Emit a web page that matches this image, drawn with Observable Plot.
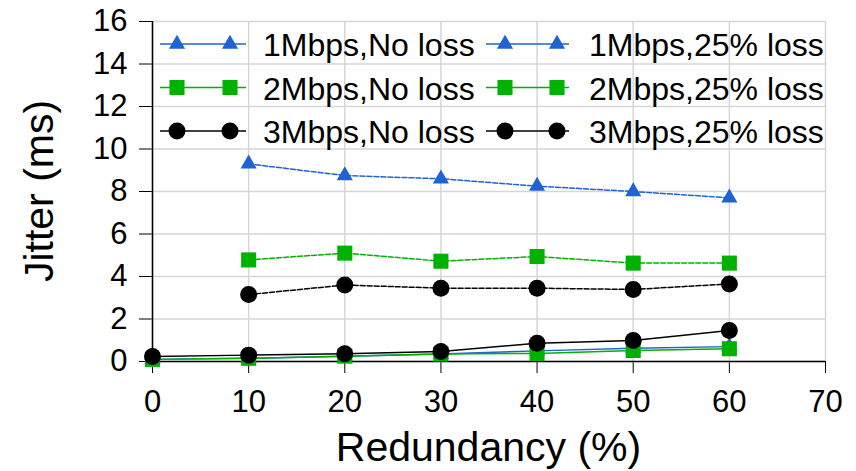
<!DOCTYPE html>
<html>
<head>
<meta charset="utf-8">
<script src="https://cdn.jsdelivr.net/npm/d3@7"></script>
<script src="https://cdn.jsdelivr.net/npm/@observablehq/plot@0.6"></script>
<style>
  html, body { margin: 0; padding: 0; background: #fff; }
  #chart { width: 856px; height: 471px; }
</style>
</head>
<body>
<div id="chart"></div>
<script>
// ---- data ----
const redundancy = [0, 10, 20, 30, 40, 50, 60];
const redundancyLoss = [10, 20, 30, 40, 50, 60];
const noLoss1M = [0.1, 0.15, 0.25, 0.35, 0.5, 0.62, 0.7];
const noLoss2M = [0.1, 0.15, 0.25, 0.35, 0.38, 0.52, 0.6];
const noLoss3M = [0.24, 0.3, 0.36, 0.47, 0.86, 0.99, 1.46];
const loss1M = [9.3, 8.75, 8.6, 8.25, 8.0, 7.7];
const loss2M = [4.78, 5.1, 4.72, 4.94, 4.63, 4.63];
const loss3M = [3.15, 3.6, 3.45, 3.45, 3.39, 3.65];
const xTicks = [0, 10, 20, 30, 40, 50, 60, 70];
const yTicks = [0, 2, 4, 6, 8, 10, 12, 14, 16];
const seriesNames = ["1Mbps,No loss", "1Mbps,25% loss", "2Mbps,No loss", "2Mbps,25% loss", "3Mbps,No loss", "3Mbps,25% loss"];
const xLabel = "Redundancy (%)";
const yLabel = "Jitter (ms)";

const BLUE = "#1f63d3", GREEN = "#00b200", BLACK = "#000000";

const series = [
  {name: seriesNames[0], xs: redundancy, ys: noLoss1M, color: BLUE, symbol: "triangle", r: 6, dash: null},
  {name: seriesNames[2], xs: redundancy, ys: noLoss2M, color: GREEN, symbol: "square", r: 8.5, dash: null},
  {name: seriesNames[4], xs: redundancy, ys: noLoss3M, color: BLACK, symbol: "circle", r: 8.5, dash: null},
  {name: seriesNames[1], xs: redundancyLoss, ys: loss1M, color: BLUE, symbol: "triangle", r: 6, dash: "5,2"},
  {name: seriesNames[3], xs: redundancyLoss, ys: loss2M, color: GREEN, symbol: "square", r: 8.5, dash: "5,2"},
  {name: seriesNames[5], xs: redundancyLoss, ys: loss3M, color: BLACK, symbol: "circle", r: 8.5, dash: "5,2"}
];

const marks = [
  Plot.ruleX(xTicks, {stroke: "#d6d6d6", strokeWidth: 1.5}),
  Plot.ruleY(yTicks, {stroke: "#d6d6d6", strokeWidth: 1.5}),
  Plot.ruleX([0], {stroke: "#000", strokeWidth: 1.5}),
  Plot.ruleY([0], {stroke: "#000", strokeWidth: 1.5})
];
for (const s of series) {
  const rows = s.xs.map((x, i) => ({x, y: s.ys[i]}));
  marks.push(Plot.line(rows, {x: "x", y: "y", stroke: s.color, strokeWidth: 1.5, strokeDasharray: s.dash}));
}
for (const s of series) {
  const rows = s.xs.map((x, i) => ({x, y: s.ys[i]}));
  marks.push(Plot.dot(rows, {x: "x", y: "y", fill: s.color, stroke: "none", symbol: s.symbol, r: s.r}));
}

const plot = Plot.plot({
  width: 856,
  height: 471,
  marginLeft: 152,
  marginRight: 31,
  marginTop: 21,
  marginBottom: 110,
  style: {fontFamily: "Liberation Sans, Arial, sans-serif", fontSize: "31px", color: "#000", background: "#fff"},
  x: {domain: [0, 70], ticks: xTicks, tickSize: 12, tickPadding: 16, tickFormat: d => String(d), label: null},
  y: {domain: [0, 16], ticks: yTicks, tickSize: 13, tickPadding: 12, tickFormat: d => String(d), label: null},
  marks
});
document.getElementById("chart").appendChild(plot);

// axis titles and legend
const svg = d3.select(plot);
svg.append("text")
  .attr("x", 488.5).attr("y", 461)
  .attr("text-anchor", "middle")
  .style("font-size", "41px").style("font-family", "Liberation Sans, Arial, sans-serif")
  .attr("fill", "#000")
  .text(xLabel);
svg.append("text")
  .attr("transform", "translate(53,191) rotate(-90)")
  .attr("text-anchor", "middle")
  .style("font-size", "41px").style("font-family", "Liberation Sans, Arial, sans-serif")
  .attr("fill", "#000")
  .text(yLabel);

const symMap = {triangle: d3.symbolTriangle, square: d3.symbolSquare, circle: d3.symbolCircle};
const legendRows = [44, 87.5, 131];
const legendCols = [
  {x0: 160, x1: 246, m0: 177, m1: 230, tx: 263},
  {x0: 486, x1: 569, m0: 505, m1: 557, tx: 589}
];
const legendOrder = [
  [series[0], series[3]],
  [series[1], series[4]],
  [series[2], series[5]]
];
const lg = svg.append("g")
  .attr("text-anchor", "start")
  .style("font-family", "Liberation Sans, Arial, sans-serif").style("font-size", "32px");
legendOrder.forEach((pair, ri) => {
  const y = legendRows[ri];
  pair.forEach((s, ci) => {
    const c = legendCols[ci];
    lg.append("line").attr("x1", c.x0).attr("x2", c.x1).attr("y1", y).attr("y2", y)
      .attr("stroke", s.color).attr("stroke-width", 1.5);
    for (const mx of [c.m0, c.m1]) {
      lg.append("path")
        .attr("d", d3.symbol(symMap[s.symbol], Math.PI * s.r * s.r)())
        .attr("transform", `translate(${mx},${y})`)
        .attr("fill", s.color);
    }
    lg.append("text").attr("x", c.tx).attr("y", y + 12).attr("text-anchor", "start")
      .attr("fill", "#000").text(s.name);
  });
});
</script>
</body>
</html>
